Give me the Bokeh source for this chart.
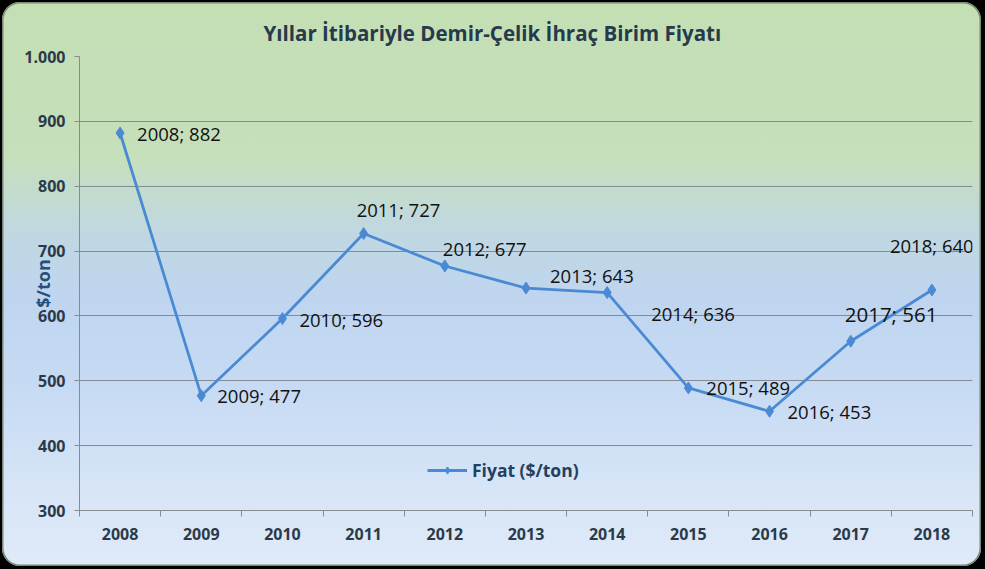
from bokeh.plotting import figure
from bokeh.models import ColumnDataSource, FixedTicker, LabelSet
from bokeh.layouts import column
from bokeh.embed import file_html
from bokeh.resources import INLINE
from bokeh.core.properties import value

# ---- data ----
years = [2008, 2009, 2010, 2011, 2012, 2013, 2014, 2015, 2016, 2017, 2018]
prices = [882, 477, 596, 727, 677, 643, 636, 489, 453, 561, 640]
y_ticks = [300, 400, 500, 600, 700, 800, 900, 1000]
y_tick_labels = ["300", "400", "500", "600", "700", "800", "900", "1.000"]
title_text = "Yıllar İtibariyle Demir-Çelik İhraç Birim Fiyatı"
series_name = "Fiyat ($/ton)"
y_axis_title = "$/ton"

# ---- label placement (style, pixels; dy positive = up) ----
lab_dx = [17, 16, 17, -7, -2, 24, 44, 18, 18, -6, -42]
lab_dy = [0, 0, -1, 24, 17, 13, -21, 0, 0, 27, 44]
lab_size = ["18.5px"] * 9 + ["20.5px", "18.5px"]

FONT = "Open Sans"
LINE_COLOR = "#4a8ad4"
GRID = "#858b91"
TICK_TEXT = "#2b3a4a"

src = ColumnDataSource(dict(
    x=years, y=prices,
    label=[f"{yr}; {v}" for yr, v in zip(years, prices)],
    dx=lab_dx, dy=lab_dy, size=lab_size,
))

p = figure(width=979, height=564,
           x_range=(years[0] - 0.5, years[-1] + 0.5),
           y_range=(y_ticks[0], y_ticks[-1]),
           output_backend="svg", toolbar_location=None,
           min_border_left=77, min_border_right=9,
           min_border_top=54, min_border_bottom=56)
p.margin = (2, 4, 3, 2)
p.styles = {
    "background": "linear-gradient(to bottom, #c4dfb4 0%, #c6dfbc 28%, #c0d8e0 40%, #bfd5ef 52%, #c6daf3 68%, #d8e6f7 88%, #dfeaf8 100%)",
    "border-radius": "18px",
    "box-shadow": "inset 0 0 0 1.5px #768678",
}
p.background_fill_color = None
p.border_fill_color = None
p.outline_line_color = None

# title
p.title.text = title_text
p.title.align = "left"
p.title.offset = 184
p.title.standoff = 19
p.title.text_font = FONT
p.title.text_font_size = "20.5px"
p.title.text_font_style = "bold"
p.title.text_color = "#263a4c"

# grid
p.xgrid.visible = False
p.ygrid.ticker = FixedTicker(ticks=y_ticks)
p.ygrid.grid_line_color = GRID
p.ygrid.grid_line_width = 1

# x axis
xa = p.xaxis[0]
xa.ticker = FixedTicker(ticks=years, minor_ticks=[yr - 0.5 for yr in years] + [years[-1] + 0.5])
xa.major_label_overrides = {yr: str(yr) for yr in years}
xa.major_tick_line_color = None
xa.major_tick_in = 0
xa.major_tick_out = 0
xa.minor_tick_in = 0
xa.minor_tick_out = 6
xa.minor_tick_line_color = GRID
xa.axis_line_color = GRID
xa.major_label_standoff = 11
xa.major_label_text_font = FONT
xa.major_label_text_font_size = "16px"
xa.major_label_text_font_style = "bold"
xa.major_label_text_color = TICK_TEXT

# y axis
ya = p.yaxis[0]
ya.ticker = FixedTicker(ticks=y_ticks, minor_ticks=[])
ya.major_label_overrides = dict(zip(y_ticks, y_tick_labels))
ya.major_tick_in = 0
ya.major_tick_out = 5
ya.major_tick_line_color = GRID
ya.minor_tick_line_color = None
ya.axis_line_color = GRID
ya.major_label_standoff = 9
ya.major_label_text_font = FONT
ya.major_label_text_font_size = "16px"
ya.major_label_text_font_style = "bold"
ya.major_label_text_color = TICK_TEXT
ya.axis_label = y_axis_title
ya.axis_label_standoff = -34
ya.axis_label_text_font = FONT
ya.axis_label_text_font_size = "18px"
ya.axis_label_text_font_style = "bold"
ya.axis_label_text_color = "#23507d"

# series
p.line("x", "y", source=src, line_color=LINE_COLOR, line_width=2.8, legend_label=series_name)
p.scatter("x", "y", source=src, marker="diamond", size=12, fill_color=LINE_COLOR,
          line_color=LINE_COLOR, legend_label=series_name)

p.add_layout(LabelSet(x="x", y="y", text="label", source=src,
                      x_offset="dx", y_offset="dy",
                      text_font_size="size", text_align="left", text_baseline="middle",
                      text_font=value(FONT), text_color="#111111"))

lg = p.legend[0]
lg.location = (348, 28)
lg.border_line_color = None
lg.background_fill_alpha = 0
lg.padding = 0
lg.margin = 0
lg.glyph_width = 40
lg.glyph_height = 18
lg.label_standoff = 5
lg.label_text_font = FONT
lg.label_text_font_size = "17.5px"
lg.label_text_font_style = "bold"
lg.label_text_color = "#23405e"

layout = column(p, width=985, height=569, styles={"background-color": "#000000"})

with open("out.html", "w") as f:
    f.write(file_html(layout, INLINE))
